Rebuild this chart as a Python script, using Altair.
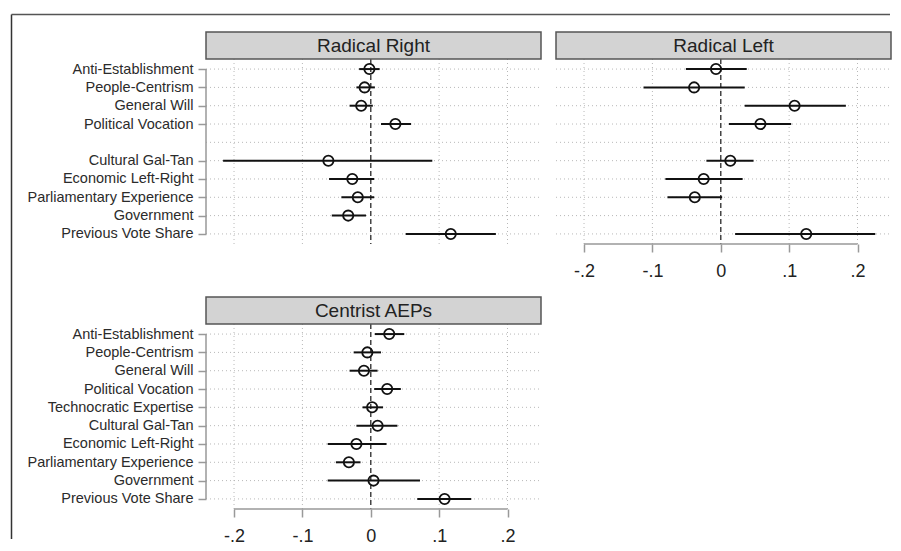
import altair as alt
import pandas as pd

# ---------------- data ----------------
terms = ["Anti-Establishment", "People-Centrism", "General Will", "Political Vocation",
         "Technocratic Expertise", "Cultural Gal-Tan", "Economic Left-Right",
         "Parliamentary Experience", "Government", "Previous Vote Share"]

rr_title = "Radical Right"
rr_terms = ["Anti-Establishment", "People-Centrism", "General Will", "Political Vocation",
            "Cultural Gal-Tan", "Economic Left-Right", "Parliamentary Experience",
            "Government", "Previous Vote Share"]
rr_est = [-0.002, -0.009, -0.014, 0.036, -0.062, -0.027, -0.019, -0.033, 0.117]
rr_lo = [-0.017, -0.021, -0.031, 0.015, -0.216, -0.061, -0.043, -0.057, 0.051]
rr_hi = [0.013, 0.006, 0.003, 0.059, 0.090, 0.005, 0.005, -0.007, 0.183]

rl_title = "Radical Left"
rl_terms = ["Anti-Establishment", "People-Centrism", "General Will", "Political Vocation",
            "Cultural Gal-Tan", "Economic Left-Right", "Parliamentary Experience",
            "Previous Vote Share"]
rl_est = [-0.007, -0.039, 0.108, 0.058, 0.014, -0.025, -0.038, 0.125]
rl_lo = [-0.051, -0.113, 0.035, 0.012, -0.021, -0.081, -0.078, 0.021]
rl_hi = [0.038, 0.035, 0.183, 0.103, 0.048, 0.032, 0.002, 0.226]

ce_title = "Centrist AEPs"
ce_terms = terms
ce_est = [0.027, -0.005, -0.010, 0.024, 0.002, 0.010, -0.021, -0.032, 0.004, 0.108]
ce_lo = [0.006, -0.025, -0.031, 0.005, -0.012, -0.021, -0.063, -0.051, -0.063, 0.068]
ce_hi = [0.049, 0.015, 0.010, 0.044, 0.018, 0.039, 0.023, -0.015, 0.072, 0.147]

x_ticks = [-0.2, -0.1, 0.0, 0.1, 0.2]
grid_ticks = [-0.2, -0.1, 0.1, 0.2]
x_domain = [-0.241, 0.249]

# ---------------- layout / style ----------------
W, H = 335, 185
HDR = 27
GRID = "#b8b8b8"
AXC = "#999999"
INK = "#111111"


def xs():
    return alt.Scale(domain=x_domain, nice=False, zero=False)


def ys():
    return alt.Scale(domain=terms, type="point", padding=0.55)


def panel(title, t, est, lo, hi, show_y, show_x, border=False):
    df = pd.DataFrame({"term": t, "est": est, "lo": lo, "hi": hi})

    if show_y:
        yaxis = alt.Axis(values=t, domain=False, grid=False, ticks=True, tickSize=8,
                         tickColor=AXC, tickWidth=1.5, labelFontSize=14.5, labelColor="#2b2b2b",
                         labelPadding=5, labelLimit=400, title=None)
    else:
        yaxis = None
    if show_x:
        xaxis = alt.Axis(values=x_ticks, domain=False, grid=False, ticks=True, tickSize=8,
                         tickColor=AXC, tickWidth=1.5, labelFontSize=18, labelColor="#222222",
                         labelPadding=10, title=None,
                         labelExpr="datum.value < 0 ? '-.' + round(abs(datum.value)*10) : "
                                   "(datum.value > 0 ? '.' + round(datum.value*10) : '0')")
    else:
        xaxis = None

    def X(field):
        return alt.X(field, scale=xs(), axis=xaxis)

    def Y(field):
        return alt.Y(field, scale=ys(), axis=yaxis)

    grid_h = alt.Chart(pd.DataFrame({"term": terms})).mark_rule(
        color=GRID, strokeDash=[1, 3], strokeWidth=1
    ).encode(y=Y("term:N"), x=alt.value(0), x2=alt.value(W))

    grid_v = alt.Chart(pd.DataFrame({"v": grid_ticks})).mark_rule(
        color=GRID, strokeDash=[1, 3], strokeWidth=1
    ).encode(x=X("v:Q"), y=alt.value(0), y2=alt.value(H))

    zero = alt.Chart(pd.DataFrame({"v": [0.0]})).mark_rule(
        color="#444444", strokeDash=[5, 3], strokeWidth=1.5
    ).encode(x=X("v:Q"), y=alt.value(0), y2=alt.value(H))

    layers = [grid_h, grid_v, zero]

    if show_y:
        yline = alt.Chart(pd.DataFrame({"a": [t[0]], "b": [t[-1]]})).mark_rule(
            color=AXC, strokeWidth=1.5
        ).encode(y=Y("a:N"), y2=alt.Y2("b"), x=alt.value(0))
        layers.append(yline)
    if show_x:
        xline = alt.Chart(pd.DataFrame({"a": [x_ticks[0]], "b": [x_ticks[-1]]})).mark_rule(
            color=AXC, strokeWidth=1.5
        ).encode(x=X("a:Q"), x2=alt.X2("b"), y=alt.value(H))
        layers.append(xline)

    ci = alt.Chart(df).mark_rule(color=INK, strokeWidth=2).encode(
        x=X("lo:Q"), x2=alt.X2("hi"), y=Y("term:N"))
    pts = alt.Chart(df).mark_point(
        shape="circle", filled=False, size=105, strokeWidth=1.8, color=INK, opacity=1
    ).encode(x=X("est:Q"), y=Y("term:N"))
    layers += [ci, pts]

    hdf = pd.DataFrame({"t": [title]})
    hdr = alt.Chart(hdf).mark_rect(fill="#d3d3d3", stroke="#555555", strokeWidth=1.5).encode(
        x=alt.value(0), x2=alt.value(W), y=alt.value(-HDR), y2=alt.value(0))
    htxt = alt.Chart(hdf).mark_text(fontSize=19, color="#222222", align="center",
                                    baseline="middle").encode(
        text="t:N", x=alt.value(W / 2), y=alt.value(-HDR / 2))
    layers += [hdr, htxt]

    if border:
        bl = alt.Chart(hdf).mark_rule(color="#333333", strokeWidth=1.5).encode(
            x=alt.value(-194.5), y=alt.value(-44.5), y2=alt.value(480))
        bt = alt.Chart(hdf).mark_rule(color="#555555", strokeWidth=1.5).encode(
            x=alt.value(-194.5), x2=alt.value(684), y=alt.value(-44.5))
        layers += [bl, bt]

    return alt.layer(*layers).properties(width=W, height=H)


rr = panel(rr_title, rr_terms, rr_est, rr_lo, rr_hi, True, False, border=True)
rl = panel(rl_title, rl_terms, rl_est, rl_lo, rl_hi, False, True)
ce = panel(ce_title, ce_terms, ce_est, ce_lo, ce_hi, True, True)

chart = alt.concat(
    rr, rl, ce, columns=2, spacing={"row": 80, "column": 15}, bounds="flush",
    padding={"left": 2, "top": 5, "right": 0, "bottom": 0}
).configure(font="Liberation Sans").configure_view(stroke=None)

chart.save("out.html", embed_options={"renderer": "svg", "actions": False})
